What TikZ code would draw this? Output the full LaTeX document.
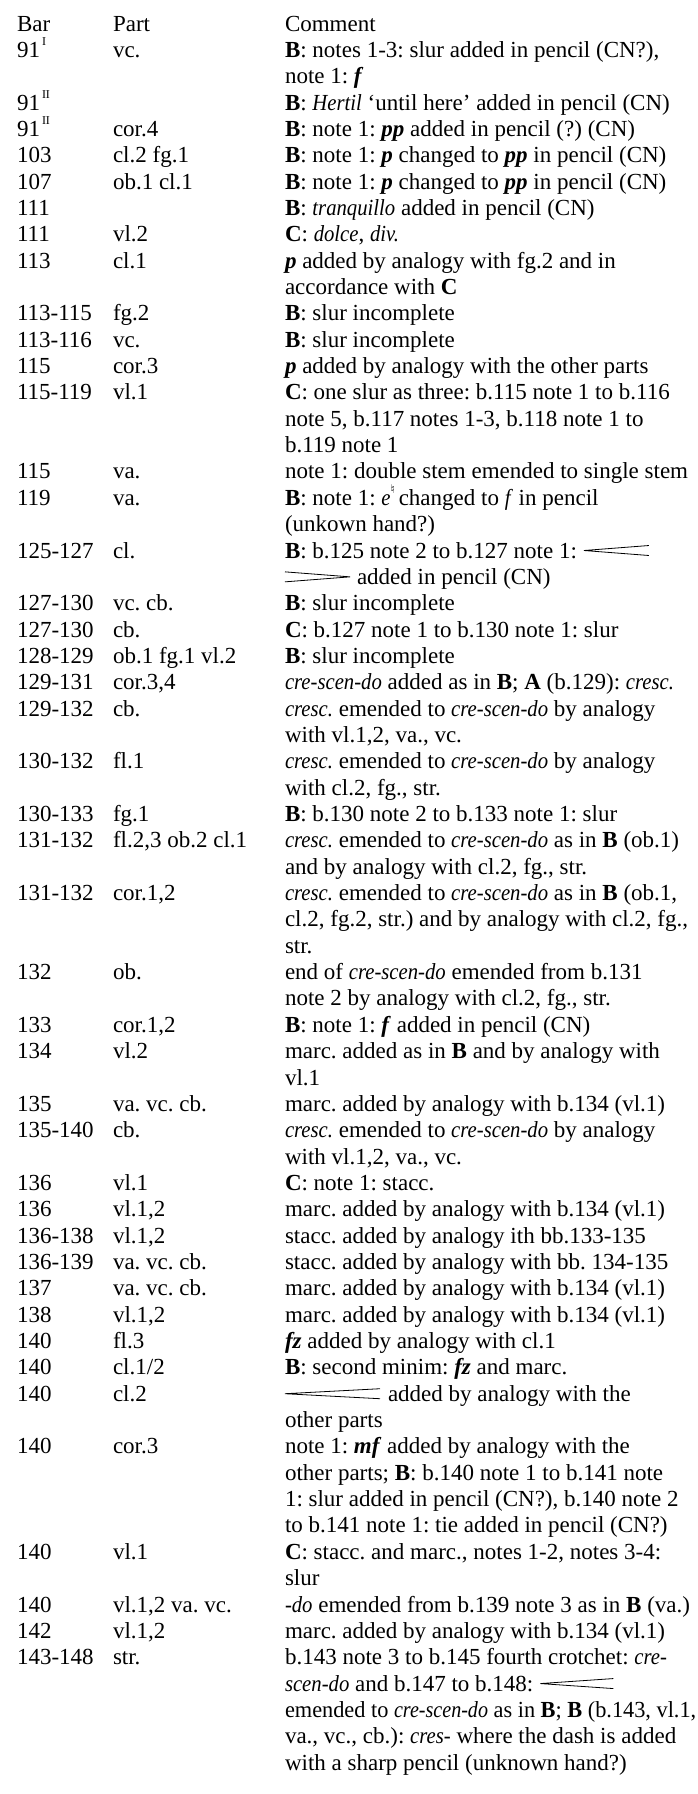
\documentclass[tikz,border=0pt]{standalone}
\usepackage{fontspec}
\setmainfont{Liberation Serif}[ItalicFeatures={FakeStretch=0.9}]
\newfontfamily\symf{DejaVu Sans}
\usetikzlibrary{calc}
\frenchspacing
\def\Y#1{31+(#1-1)*26.35}
\def\xa{17}\def\xb{113}\def\xc{285}
\newcommand\Bs{\textbf{B}}
\newcommand\Cs{\textbf{C}}
\newcommand\As{\textbf{A}}
\newcommand\dyn[1]{\textbf{\textit{#1}}}
\newcommand\supr[1]{\raisebox{0.5em}{\fontsize{12}{12}\selectfont\,#1}}
\newcommand\tl[4]{\node[txt] (#1) at (#2,{\Y{#3}}) {#4};}
\begin{document}
\begin{tikzpicture}[x=1pt,y=-1pt,
  txt/.style={anchor=base west,inner sep=0pt,outer sep=0pt,font=\fontsize{23}{26}\selectfont\frenchspacing},
  hp/.style={line width=0.8pt,line join=miter}]
\useasboundingbox[fill=white] (0,0) rectangle (698,1794);
% header
\tl{h1}{\xa}{1}{Bar}\tl{h2}{\xb}{1}{Part}\tl{h3}{\xc}{1}{Comment}
\tl{a2}{\xa}{2}{91\supr{I}}\tl{b2}{\xb}{2}{vc.}\tl{c2}{\xc}{2}{\Bs: notes 1-3: slur added in pencil (CN?),}
\tl{c3}{\xc}{3}{note 1: \dyn{f}}
\tl{a4}{\xa}{4}{91\supr{II}}\tl{c4}{\xc}{4}{\Bs: \textit{Hertil} ‘until here’ added in pencil (CN)}
\tl{a5}{\xa}{5}{91\supr{II}}\tl{b5}{\xb}{5}{cor.4}\tl{c5}{\xc}{5}{\Bs: note 1: \dyn{pp} added in pencil (?) (CN)}
\tl{a6}{\xa}{6}{103}\tl{b6}{\xb}{6}{cl.2 fg.1}\tl{c6}{\xc}{6}{\Bs: note 1: \dyn{p} changed to \dyn{pp} in pencil (CN)}
\tl{a7}{\xa}{7}{107}\tl{b7}{\xb}{7}{ob.1 cl.1}\tl{c7}{\xc}{7}{\Bs: note 1: \dyn{p} changed to \dyn{pp} in pencil (CN)}
\tl{a8}{\xa}{8}{111}\tl{c8}{\xc}{8}{\Bs: \textit{tranquillo} added in pencil (CN)}
\tl{a9}{\xa}{9}{111}\tl{b9}{\xb}{9}{vl.2}\tl{c9}{\xc}{9}{\Cs: \textit{dolce}, \textit{div.}}
\tl{a10}{\xa}{10}{113}\tl{b10}{\xb}{10}{cl.1}\tl{c10}{\xc}{10}{\dyn{p} added by analogy with fg.2 and in}
\tl{c11}{\xc}{11}{accordance with \Cs}
\tl{a12}{\xa}{12}{113-115}\tl{b12}{\xb}{12}{fg.2}\tl{c12}{\xc}{12}{\Bs: slur incomplete}
\tl{a13}{\xa}{13}{113-116}\tl{b13}{\xb}{13}{vc.}\tl{c13}{\xc}{13}{\Bs: slur incomplete}
\tl{a14}{\xa}{14}{115}\tl{b14}{\xb}{14}{cor.3}\tl{c14}{\xc}{14}{\dyn{p} added by analogy with the other parts}
\tl{a15}{\xa}{15}{115-119}\tl{b15}{\xb}{15}{vl.1}\tl{c15}{\xc}{15}{\Cs: one slur as three: b.115 note 1 to b.116}
\tl{c16}{\xc}{16}{note 5, b.117 notes 1-3, b.118 note 1 to}
\tl{c17}{\xc}{17}{b.119 note 1}
\tl{a18}{\xa}{18}{115}\tl{b18}{\xb}{18}{va.}\tl{c18}{\xc}{18}{note 1: double stem emended to single stem}
\tl{a19}{\xa}{19}{119}\tl{b19}{\xb}{19}{va.}\tl{c19}{\xc}{19}{\Bs: note 1: \textit{e}\raisebox{0.5em}{\fontsize{12}{12}\selectfont\symf ♮}\,changed to \textit{f} in pencil}
\tl{c20}{\xc}{20}{(unkown hand?)}
\tl{a21}{\xa}{21}{125-127}\tl{b21}{\xb}{21}{cl.}\tl{c21}{\xc}{21}{\Bs: b.125 note 2 to b.127 note 1:}
\draw[hp] ($(c21.base east)+(72,-12.5)$) -- ($(c21.base east)+(7,-7.5)$) -- ($(c21.base east)+(72,-2.5)$);
\coordinate (h22) at (\xc,{\Y{22}});
\draw[hp] ($(h22)+(0,-12.5)$) -- ($(h22)+(65,-7.5)$) -- ($(h22)+(0,-2.5)$);
\tl{c22}{357}{22}{added in pencil (CN)}
\tl{a23}{\xa}{23}{127-130}\tl{b23}{\xb}{23}{vc. cb.}\tl{c23}{\xc}{23}{\Bs: slur incomplete}
\tl{a24}{\xa}{24}{127-130}\tl{b24}{\xb}{24}{cb.}\tl{c24}{\xc}{24}{\Cs: b.127 note 1 to b.130 note 1: slur}
\tl{a25}{\xa}{25}{128-129}\tl{b25}{\xb}{25}{ob.1 fg.1 vl.2}\tl{c25}{\xc}{25}{\Bs: slur incomplete}
\tl{a26}{\xa}{26}{129-131}\tl{b26}{\xb}{26}{cor.3,4}\tl{c26}{\xc}{26}{\textit{cre-scen-do} added as in \Bs; \As\ (b.129): \textit{cresc.}}
\tl{a27}{\xa}{27}{129-132}\tl{b27}{\xb}{27}{cb.}\tl{c27}{\xc}{27}{\textit{cresc.} emended to \textit{cre-scen-do} by analogy}
\tl{c28}{\xc}{28}{with vl.1,2, va., vc.}
\tl{a29}{\xa}{29}{130-132}\tl{b29}{\xb}{29}{fl.1}\tl{c29}{\xc}{29}{\textit{cresc.} emended to \textit{cre-scen-do} by analogy}
\tl{c30}{\xc}{30}{with cl.2, fg., str.}
\tl{a31}{\xa}{31}{130-133}\tl{b31}{\xb}{31}{fg.1}\tl{c31}{\xc}{31}{\Bs: b.130 note 2 to b.133 note 1: slur}
\tl{a32}{\xa}{32}{131-132}\tl{b32}{\xb}{32}{fl.2,3 ob.2 cl.1}\tl{c32}{\xc}{32}{\textit{cresc.} emended to \textit{cre-scen-do} as in \Bs\ (ob.1)}
\tl{c33}{\xc}{33}{and by analogy with cl.2, fg., str.}
\tl{a34}{\xa}{34}{131-132}\tl{b34}{\xb}{34}{cor.1,2}\tl{c34}{\xc}{34}{\textit{cresc.} emended to \textit{cre-scen-do} as in \Bs\ (ob.1,}
\tl{c35}{\xc}{35}{cl.2, fg.2, str.) and by analogy with cl.2, fg.,}
\tl{c36}{\xc}{36}{str.}
\tl{a37}{\xa}{37}{132}\tl{b37}{\xb}{37}{ob.}\tl{c37}{\xc}{37}{end of \textit{cre-scen-do} emended from b.131}
\tl{c38}{\xc}{38}{note 2 by analogy with cl.2, fg., str.}
\tl{a39}{\xa}{39}{133}\tl{b39}{\xb}{39}{cor.1,2}\tl{c39}{\xc}{39}{\Bs: note 1: \dyn{f} added in pencil (CN)}
\tl{a40}{\xa}{40}{134}\tl{b40}{\xb}{40}{vl.2}\tl{c40}{\xc}{40}{marc. added as in \Bs\ and by analogy with}
\tl{c41}{\xc}{41}{vl.1}
\tl{a42}{\xa}{42}{135}\tl{b42}{\xb}{42}{va. vc. cb.}\tl{c42}{\xc}{42}{marc. added by analogy with b.134 (vl.1)}
\tl{a43}{\xa}{43}{135-140}\tl{b43}{\xb}{43}{cb.}\tl{c43}{\xc}{43}{\textit{cresc.} emended to \textit{cre-scen-do} by analogy}
\tl{c44}{\xc}{44}{with vl.1,2, va., vc.}
\tl{a45}{\xa}{45}{136}\tl{b45}{\xb}{45}{vl.1}\tl{c45}{\xc}{45}{\Cs: note 1: stacc.}
\tl{a46}{\xa}{46}{136}\tl{b46}{\xb}{46}{vl.1,2}\tl{c46}{\xc}{46}{marc. added by analogy with b.134 (vl.1)}
\tl{a47}{\xa}{47}{136-138}\tl{b47}{\xb}{47}{vl.1,2}\tl{c47}{\xc}{47}{stacc. added by analogy ith bb.133-135}
\tl{a48}{\xa}{48}{136-139}\tl{b48}{\xb}{48}{va. vc. cb.}\tl{c48}{\xc}{48}{stacc. added by analogy with bb. 134-135}
\tl{a49}{\xa}{49}{137}\tl{b49}{\xb}{49}{va. vc. cb.}\tl{c49}{\xc}{49}{marc. added by analogy with b.134 (vl.1)}
\tl{a50}{\xa}{50}{138}\tl{b50}{\xb}{50}{vl.1,2}\tl{c50}{\xc}{50}{marc. added by analogy with b.134 (vl.1)}
\tl{a51}{\xa}{51}{140}\tl{b51}{\xb}{51}{fl.3}\tl{c51}{\xc}{51}{\dyn{fz} added by analogy with cl.1}
\tl{a52}{\xa}{52}{140}\tl{b52}{\xb}{52}{cl.1/2}\tl{c52}{\xc}{52}{\Bs: second minim: \dyn{fz} and marc.}
\tl{a53}{\xa}{53}{140}\tl{b53}{\xb}{53}{cl.2}
\coordinate (h53) at (\xc,{\Y{53}});
\draw[hp] ($(h53)+(95,-12.5)$) -- ($(h53)+(0,-7.5)$) -- ($(h53)+(95,-2.5)$);
\tl{c53}{388}{53}{added by analogy with the}
\tl{c54}{\xc}{54}{other parts}
\tl{a55}{\xa}{55}{140}\tl{b55}{\xb}{55}{cor.3}\tl{c55}{\xc}{55}{note 1: \dyn{mf} added by analogy with the}
\tl{c56}{\xc}{56}{other parts; \Bs: b.140 note 1 to b.141 note}
\tl{c57}{\xc}{57}{1: slur added in pencil (CN?), b.140 note 2}
\tl{c58}{\xc}{58}{to b.141 note 1: tie added in pencil (CN?)}
\tl{a59}{\xa}{59}{140}\tl{b59}{\xb}{59}{vl.1}\tl{c59}{\xc}{59}{\Cs: stacc. and marc., notes 1-2, notes 3-4:}
\tl{c60}{\xc}{60}{slur}
\tl{a61}{\xa}{61}{140}\tl{b61}{\xb}{61}{vl.1,2 va. vc.}\tl{c61}{\xc}{61}{\textit{-do} emended from b.139 note 3 as in \Bs\ (va.)}
\tl{a62}{\xa}{62}{142}\tl{b62}{\xb}{62}{vl.1,2}\tl{c62}{\xc}{62}{marc. added by analogy with b.134 (vl.1)}
\tl{a63}{\xa}{63}{143-148}\tl{b63}{\xb}{63}{str.}\tl{c63}{\xc}{63}{b.143 note 3 to b.145 fourth crotchet: \textit{cre-}}
\tl{c64}{\xc}{64}{\textit{scen-do} and b.147 to b.148:}
\draw[hp] ($(c64.base east)+(80,-12.5)$) -- ($(c64.base east)+(7,-7.5)$) -- ($(c64.base east)+(80,-2.5)$);
\tl{c65}{\xc}{65}{\scalebox{0.97}[1]{emended to \textit{cre-scen-do} as in \Bs; \Bs\ (b.143, vl.1,}}
\tl{c66}{\xc}{66}{va., vc., cb.): \textit{cres-} where the dash is added}
\tl{c67}{\xc}{67}{with a sharp pencil (unknown hand?)}
\end{tikzpicture}
\end{document}
